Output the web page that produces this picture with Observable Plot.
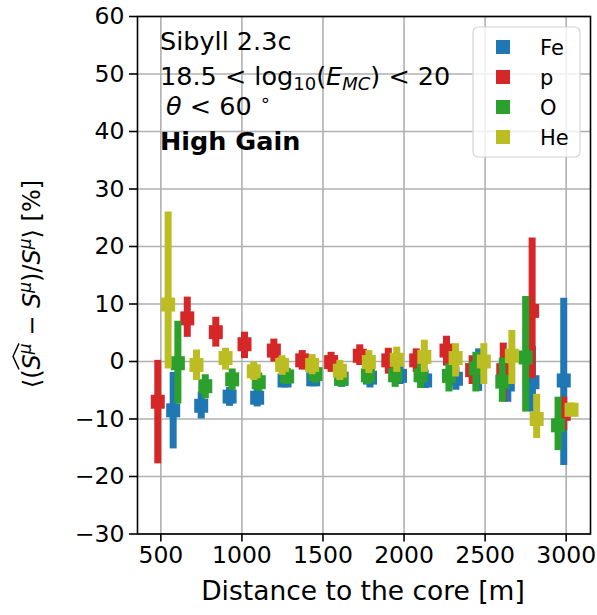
<!DOCTYPE html>
<html><head><meta charset="utf-8">
<script src="https://cdn.jsdelivr.net/npm/d3@7"></script>
<script src="https://cdn.jsdelivr.net/npm/@observablehq/plot@0.6"></script>
<style>
body{margin:0;background:#fff;}
#chart{position:relative;width:597px;height:615px;}
svg{font-family:"DejaVu Sans";}
</style>
</head><body><div id="chart"></div>
<script>
const series = ["Fe", "p", "O", "He"];
const colors = ["#1f77b4", "#d62728", "#2ca02c", "#bcbd22"];
const xTicks = [500, 1000, 1500, 2000, 2500, 3000];
const yTicks = [-30, -20, -10, 0, 10, 20, 30, 40, 50, 60];

// Fe
const feX  = [576, 749, 924, 1094, 1263, 1440, 1615, 1790, 1975, 2130, 2320, 2460, 2640, 2792, 2985];
const feY  = [-8.5, -7.7, -6.1, -6.3, -3.3, -3.1, -3.0, -2.8, -2.5, -3.3, -3.0, -1.5, -4.0, -3.6, -3.3];
const feLo = [-15.2, -10.0, -7.8, -7.9, -4.6, -4.4, -4.5, -4.6, -4.0, -4.7, -5.0, -5.2, -7.1, -8.8, -18.1];
const feHi = [-1.9, -5.3, -4.5, -4.7, -2.0, -1.8, -1.5, -1.0, -0.5, -1.5, -1.0, 2.2, -1.0, 2.6, 11.0];
// p
const pX  = [481, 663, 839, 1016, 1197, 1372, 1550, 1727, 1903, 2075, 2262, 2420, 2612, 2790, 2985];
const pY  = [-7.0, 7.5, 5.1, 3.0, 1.9, 0.2, -0.1, 1.0, 0.2, 0.2, 1.9, -1.5, -1.5, 8.8, -9.1];
const pLo = [-17.8, 4.2, 2.5, 0.5, -0.1, -1.5, -1.9, -0.7, -2.2, -1.9, -0.8, -4.0, -7.0, -3.0, -12.0];
const pHi = [0.2, 11.2, 7.7, 5.1, 3.9, 1.9, 1.6, 2.9, 2.3, 2.2, 4.4, 1.0, 3.2, 21.5, -6.2];
// O
const oX  = [605, 774, 940, 1104, 1279, 1454, 1612, 1777, 1945, 2102, 2277, 2443, 2606, 2750, 2950];
const oY  = [-0.3, -4.3, -3.1, -3.6, -2.6, -2.2, -3.0, -2.4, -2.4, -2.4, -2.5, -1.2, -3.5, 0.7, -11.1];
const oLo = [-7.4, -6.5, -5.0, -5.2, -4.0, -3.8, -4.4, -4.0, -4.5, -4.7, -5.3, -5.3, -7.1, -8.8, -15.5];
const oHi = [7.0, -2.3, -1.3, -2.0, -1.2, -0.8, -1.6, -0.8, -0.5, -0.1, -0.4, 1.6, 0.6, 11.3, -6.2];
// He
const heX  = [545, 720, 899, 1073, 1248, 1433, 1604, 1783, 1955, 2125, 2318, 2492, 2665, 2818, 3033];
const heY  = [9.9, -0.6, 0.6, -1.7, -0.6, -0.6, -1.6, -0.1, 0.3, 0.8, 0.6, 0.0, 1.0, -10.0, -8.4];
const heLo = [-1.3, -3.3, -1.5, -3.3, -2.4, -2.3, -3.3, -2.1, -1.9, -1.9, -2.7, -4.0, -4.0, -13.4, -9.6];
const heHi = [26.0, 2.0, 2.3, -0.1, 1.0, 1.2, 0.2, 1.9, 2.5, 3.7, 3.1, 3.1, 5.4, -5.7, -7.2];

const table = {
  Fe: [feX, feY, feLo, feHi],
  p: [pX, pY, pLo, pHi],
  O: [oX, oY, oLo, oHi],
  He: [heX, heY, heLo, heHi]
};
const rows = series.flatMap(s => {
  const [X, Y, L, H] = table[s];
  return X.map((x, i) => ({s, x, y: Y[i], lo: L[i], hi: H[i]}));
});

const fmt = d => d < 0 ? "\u2212" + Math.abs(d) : String(d);
const gridStyle = {stroke: "#b0b0b0", strokeOpacity: 1, strokeWidth: 1.6};

const plot = Plot.plot({
  width: 597, height: 615,
  marginLeft: 137, marginRight: 7, marginTop: 16, marginBottom: 81.5,
  x: {domain: [356, 3150]},
  y: {domain: [-30, 60]},
  color: {domain: series, range: colors},
  style: {fontFamily: "DejaVu Sans", background: "white", color: "black"},
  marks: [
    Plot.gridX(xTicks, gridStyle),
    Plot.gridY(yTicks, gridStyle),
    ...series.flatMap(s => [
      Plot.ruleX(rows.filter(d => d.s === s), {x: "x", y1: "lo", y2: "hi", stroke: "s", strokeWidth: 7}),
      Plot.dot(rows.filter(d => d.s === s), {x: "x", y: "y", fill: "s", symbol: "square", r: 7.9})
    ]),
    Plot.frame({stroke: "black", strokeWidth: 1.6}),
    Plot.axisX(xTicks, {tickSize: 8, tickPadding: 4, fontSize: 23.5, label: null, tickFormat: fmt, strokeWidth: 1.6}),
    Plot.axisY(yTicks, {tickSize: 8, tickPadding: 5, fontSize: 23.5, label: null, tickFormat: fmt, strokeWidth: 1.6})
  ]
});
document.getElementById("chart").appendChild(plot);

const svg = d3.select(plot);

// x label
svg.append("text").attr("x", 363).attr("y", 600).attr("text-anchor", "middle")
  .attr("font-size", 26.5).attr("fill", "black").text("Distance to the core [m]");

// y label
const gy = svg.append("g").attr("transform", "translate(40,284) rotate(-90)");
const yl = gy.append("text").attr("text-anchor", "middle").attr("font-size", 24).attr("fill", "black");
yl.append("tspan").text("\u27E8(");
yl.append("tspan").attr("font-style", "italic").text("S");
yl.append("tspan").attr("font-style", "italic").attr("font-size", 17).attr("dy", -9).text("\u03BC");
yl.append("tspan").attr("dy", 9).text(" \u2212 ");
yl.append("tspan").attr("font-style", "italic").text("S");
yl.append("tspan").attr("font-style", "italic").attr("font-size", 17).attr("dy", -9).text("\u03BC");
yl.append("tspan").attr("dy", 9).text(")/");
yl.append("tspan").attr("font-style", "italic").text("S");
yl.append("tspan").attr("font-style", "italic").attr("font-size", 17).attr("dy", -9).text("\u03BC");
yl.append("tspan").attr("dy", 9).text("\u27E9 [%]");
try {
  const t = yl.node();
  const a = t.getExtentOfChar(2), b = t.getExtentOfChar(3);
  const x0 = a.x, x1 = b.x + b.width, ytop = a.y - 2;
  gy.append("path").attr("fill", "none").attr("stroke", "black").attr("stroke-width", 1.4)
    .attr("d", `M${x0},${ytop + 3}L${(x0 + x1) / 2},${ytop - 3}L${x1},${ytop + 3}`);
} catch (e) {}

// annotations
const ann = svg.append("g").attr("fill", "black").attr("font-size", 25.5).attr("text-anchor", "start");
ann.append("text").attr("x", 160).attr("y", 50).text("Sibyll 2.3c");
const t2 = ann.append("text").attr("x", 160).attr("y", 85);
t2.append("tspan").text("18.5 < log");
t2.append("tspan").attr("font-size", 18).attr("dy", 5).text("10");
t2.append("tspan").attr("dy", -5).text("(");
t2.append("tspan").attr("font-style", "italic").text("E");
t2.append("tspan").attr("font-style", "italic").attr("font-size", 18).attr("dy", 5).text("MC");
t2.append("tspan").attr("dy", -5).text(") < 20");
const t3 = ann.append("text").attr("x", 160).attr("y", 115);
t3.append("tspan").attr("font-style", "italic").attr("dx", 6).text("\u03B8");
t3.append("tspan").text(" < 60 ");
t3.append("tspan").attr("font-size", 18).attr("dy", -9).text("\u2218");
ann.append("text").attr("x", 160).attr("y", 150).attr("font-weight", "bold").text("High Gain");

// legend
const lg = svg.append("g").attr("text-anchor", "start");
lg.append("rect").attr("x", 473).attr("y", 27).attr("width", 107).attr("height", 130).attr("rx", 5)
  .attr("fill", "white").attr("fill-opacity", 0.8).attr("stroke", "#d4d4d4").attr("stroke-width", 1.2);
series.forEach((s, i) => {
  const cy = 47 + i * 30;
  lg.append("rect").attr("x", 496).attr("y", cy - 7).attr("width", 14).attr("height", 14).attr("fill", colors[i]);
  lg.append("text").attr("x", 540).attr("y", cy + 7.5).attr("font-size", 21).attr("fill", "black").text(s);
});
</script>
</body></html>
